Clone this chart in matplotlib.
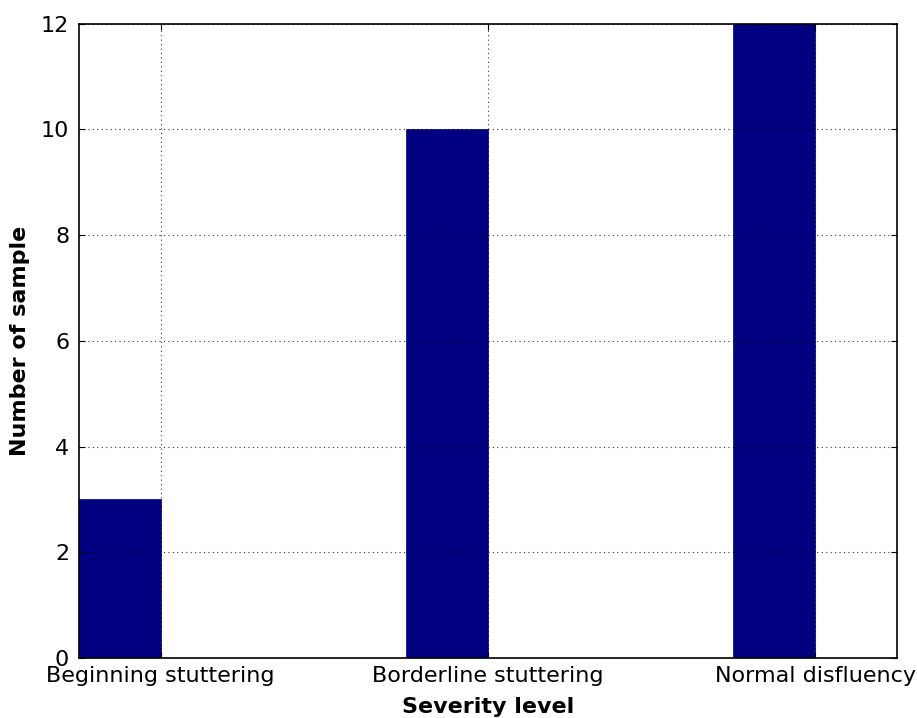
import matplotlib

matplotlib.use("Agg")
import matplotlib.pyplot as plt
import numpy as np

levels = ["Beginning stuttering", "Borderline stuttering", "Normal disfluency"]
sample_counts = [3, 10, 12]

bar_width = 0.25
x = np.arange(len(levels))

fig = plt.figure(figsize=(9.17, 7.18), dpi=100)
axis = fig.add_axes([0.086, 0.0836, 0.892, 0.8834])

axis.bar(x, sample_counts, bar_width, align="edge", color="#000080", edgecolor="#000080", linewidth=0.5)

axis.set_xlim(0, 2.5)
axis.set_ylim(0, 12)
axis.set_xticks(x + bar_width)
axis.set_xticklabels(levels)
axis.set_yticks(np.arange(0, 13, 2))
axis.tick_params(direction="in", length=4, labelsize=16, pad=6, top=True, right=True)
axis.tick_params(axis="y", pad=7)
axis.grid(True, color="black", linestyle=(0, (1, 3)), linewidth=0.8, alpha=0.8)
axis.set_axisbelow(False)
for spine in axis.spines.values():
    spine.set_linewidth(1.2)

axis.set_xlabel("Severity level", fontsize=16, fontweight="bold", labelpad=8)
axis.set_ylabel("Number of sample", fontsize=16, fontweight="bold", labelpad=8)

fig.savefig("out.png", dpi=100)
plt.close(fig)
